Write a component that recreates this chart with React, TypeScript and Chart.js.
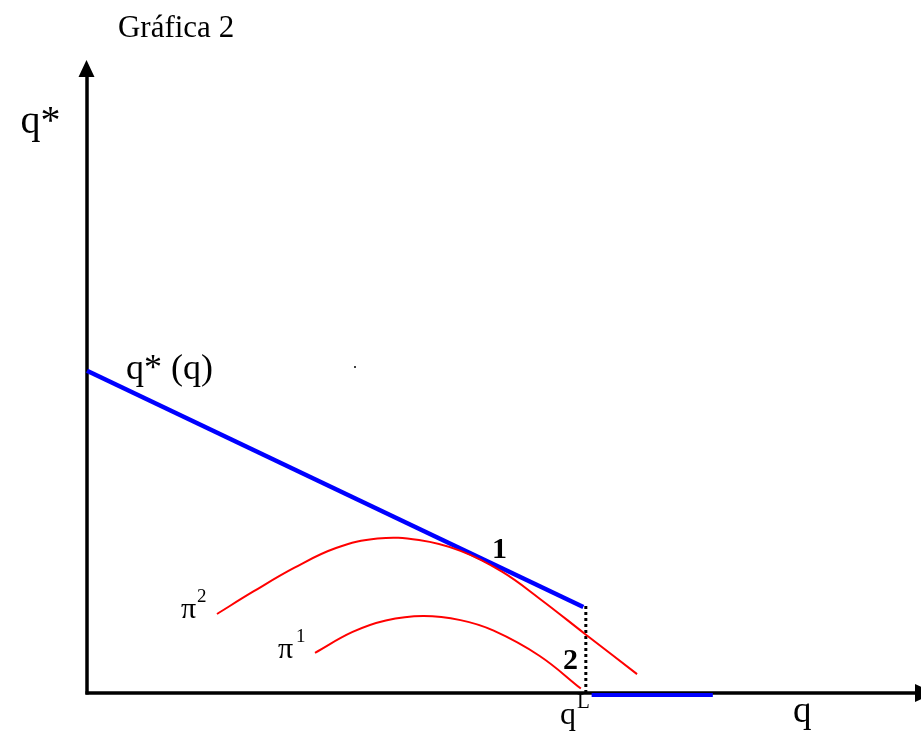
import React, { useEffect, useRef } from "react";
import { Chart, registerables } from "chart.js";

Chart.register(...registerables);

// ---- data (arbitrary units: q on x, q* on y) ----
const qStarLine = [
  { x: 0, y: 5.09 },
  { x: 5.98, y: 1.36 },
];
const qStarFlat = [
  { x: 6.08, y: -0.03 },
  { x: 7.54, y: -0.03 },
];
const qLValue = 6.01;
const qLTop = 1.42;
const qLDotted = [
  { x: qLValue, y: 0 },
  { x: qLValue, y: qLTop },
];
const pi2Curve = [
  { x: 1.566, y: 1.248 },
  { x: 2.0, y: 1.6 },
  { x: 2.5, y: 1.98 },
  { x: 3.0, y: 2.29 },
  { x: 3.5, y: 2.44 },
  { x: 4.0, y: 2.416 },
  { x: 4.5, y: 2.246 },
  { x: 5.0, y: 1.916 },
  { x: 5.458, y: 1.486 },
  { x: 6.0, y: 0.933 },
  { x: 6.627, y: 0.298 },
];
const pi1Curve = [
  { x: 2.747, y: 0.635 },
  { x: 3.2, y: 0.965 },
  { x: 3.6, y: 1.146 },
  { x: 4.05, y: 1.216 },
  { x: 4.5, y: 1.151 },
  { x: 4.9, y: 0.985 },
  { x: 5.45, y: 0.589 },
  { x: 5.95, y: 0.07 },
];
const strayDot = [{ x: 3.229, y: 5.15 }];

// ---- annotation texts and anchors (data coords, baseline-left) ----
const labelTexts = ["Gráfica 2", "q*", "q* (q)", "1", "2", "π", "2", "π", "1", "q", "L", "q"];
const labelAnchorX = [0.373, -0.8, 0.47, 4.88, 5.735, 1.133, 1.325, 2.301, 2.518, 5.699, 5.904, 8.506];
const labelAnchorY = [10.36, 8.85, 4.96, 2.133, 0.379, 1.185, 1.438, 0.553, 0.806, -0.49, -0.237, -0.458];
const labelFonts = [
  "31px 'Liberation Serif'",
  "40px 'Liberation Serif'",
  "36px 'Liberation Serif'",
  "bold 30px 'Liberation Serif'",
  "bold 30px 'Liberation Serif'",
  "30px 'Liberation Serif'",
  "19px 'Liberation Serif'",
  "30px 'Liberation Serif'",
  "19px 'Liberation Serif'",
  "32px 'Liberation Serif'",
  "21px 'Liberation Serif'",
  "37px 'Liberation Serif'",
];

const axesPlugin = {
  id: "axesArrows",
  beforeDatasetsDraw(chart: any) {
    const ctx = chart.ctx;
    const xs = chart.scales.x;
    const ys = chart.scales.y;
    const ox = xs.getPixelForValue(0);
    const oy = ys.getPixelForValue(0);
    ctx.save();
    ctx.strokeStyle = "#000";
    ctx.fillStyle = "#000";
    ctx.lineWidth = 3.5;
    // y axis
    ctx.beginPath();
    ctx.moveTo(ox, oy + 1.5);
    ctx.lineTo(ox, 74);
    ctx.stroke();
    ctx.beginPath();
    ctx.moveTo(ox - 0.5, 60);
    ctx.lineTo(ox - 8.5, 77);
    ctx.lineTo(ox + 7.5, 77);
    ctx.closePath();
    ctx.fill();
    // x axis
    ctx.beginPath();
    ctx.moveTo(ox - 1.5, oy);
    ctx.lineTo(917, oy);
    ctx.stroke();
    ctx.beginPath();
    ctx.moveTo(935, oy);
    ctx.lineTo(915, oy - 9);
    ctx.lineTo(915, oy + 9);
    ctx.closePath();
    ctx.fill();
    ctx.restore();
  },
  afterDatasetsDraw(chart: any) {
    const ctx = chart.ctx;
    const xs = chart.scales.x;
    const ys = chart.scales.y;
    ctx.save();
    ctx.fillStyle = "#000";
    ctx.textAlign = "left";
    ctx.textBaseline = "alphabetic";
    labelTexts.forEach((t, i) => {
      ctx.font = labelFonts[i];
      ctx.fillText(t, xs.getPixelForValue(labelAnchorX[i]), ys.getPixelForValue(labelAnchorY[i]));
    });
    ctx.restore();
  },
};

export default function App() {
  const ref = useRef<HTMLCanvasElement | null>(null);
  useEffect(() => {
    if (!ref.current) return;
    const common = { showLine: true, pointRadius: 0, clip: false as any, fill: false };
    const chart = new Chart(ref.current, {
      type: "scatter",
      data: {
        datasets: [
          { ...common, data: pi2Curve, borderColor: "#ff0000", borderWidth: 2, tension: 0.4 } as any,
          { ...common, data: pi1Curve, borderColor: "#ff0000", borderWidth: 2, tension: 0.4 } as any,
          { ...common, data: qStarLine, borderColor: "#0000ff", borderWidth: 4.5 } as any,
          { ...common, data: qStarFlat, borderColor: "#0000ff", borderWidth: 4 } as any,
          { ...common, data: qLDotted, borderColor: "#000", borderWidth: 3, borderDash: [3, 3] } as any,
          { data: strayDot, showLine: false, pointRadius: 1, pointBackgroundColor: "#000", pointBorderWidth: 0, clip: false } as any,
        ],
      },
      options: {
        responsive: false,
        maintainAspectRatio: false,
        animation: false,
        devicePixelRatio: 1,
        layout: { padding: { left: 87, right: 4, top: 60, bottom: 38 } },
        plugins: { legend: { display: false }, tooltip: { enabled: false }, title: { display: false } },
        scales: {
          x: { type: "linear", min: 0, max: 10, display: false },
          y: { type: "linear", min: 0, max: 10, display: false },
        },
        events: [],
      },
      plugins: [axesPlugin],
    });
    return () => chart.destroy();
  }, []);
  return (
    <div style={{ position: "absolute", left: 0, top: 0, width: 921, height: 731, background: "#fff" }}>
      <canvas ref={ref} width={921} height={731} style={{ display: "block" }} />
    </div>
  );
}
